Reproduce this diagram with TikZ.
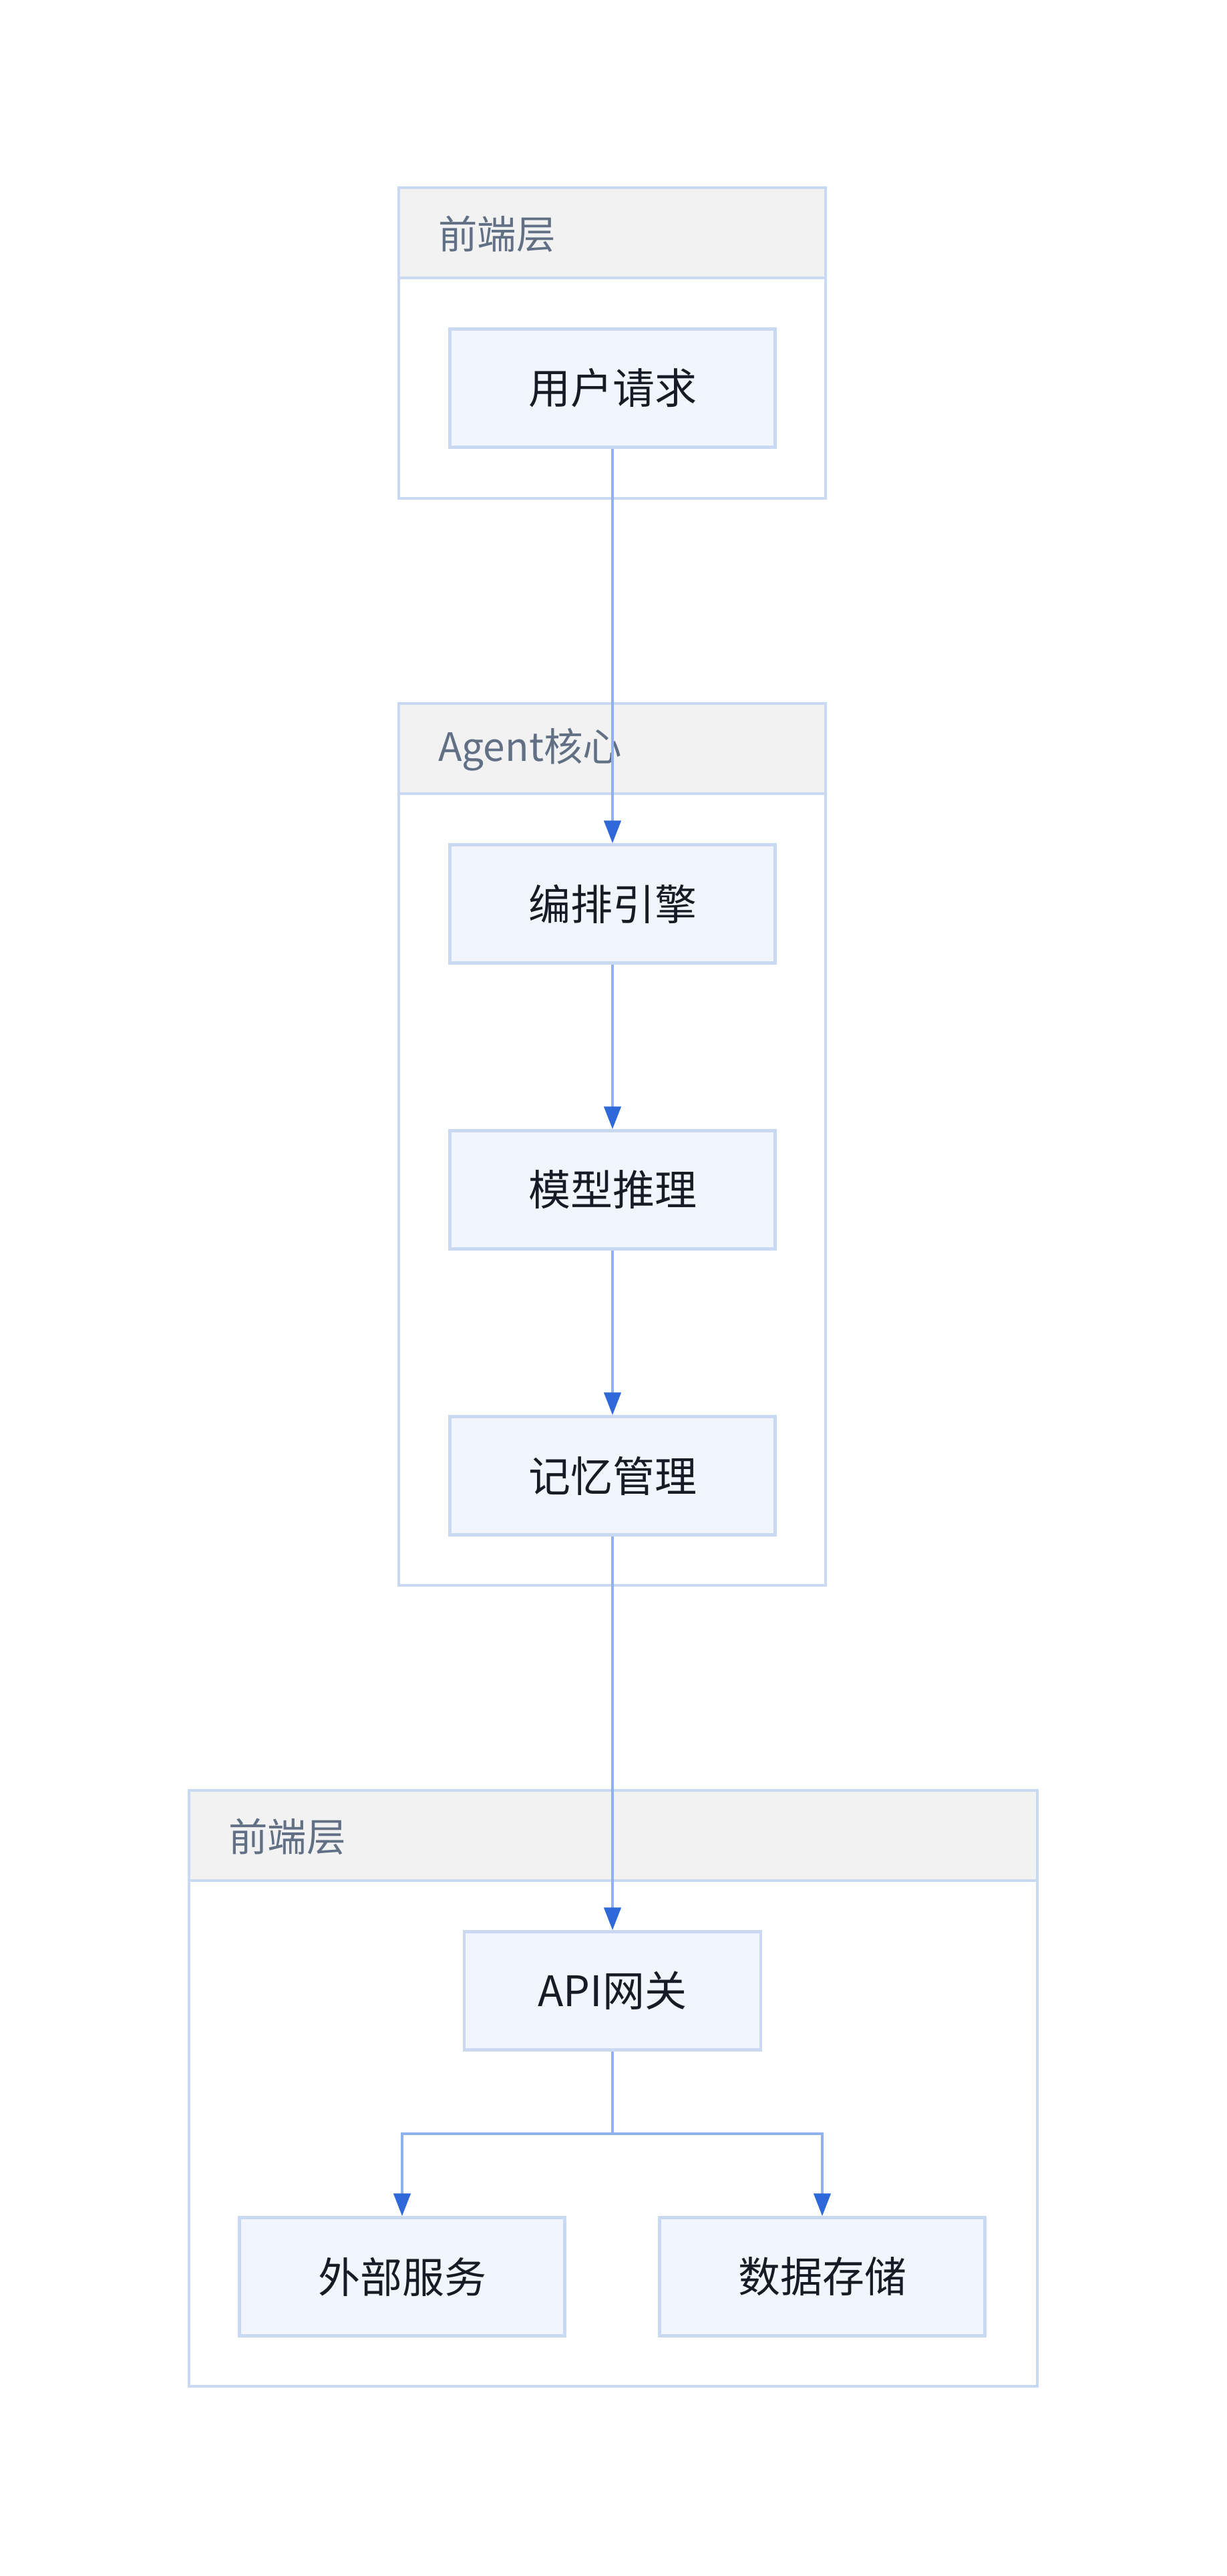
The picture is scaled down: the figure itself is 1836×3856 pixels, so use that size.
\documentclass[tikz,border=0pt]{standalone}
\usepackage{fontspec}
\setmainfont{Noto Sans CJK SC}
\usetikzlibrary{arrows.meta}
\definecolor{nodefill}{HTML}{F0F5FE}
\definecolor{nodeline}{HTML}{C9D9F2}
\definecolor{headfill}{HTML}{F2F2F2}
\definecolor{headtext}{HTML}{627086}
\definecolor{nodetext}{HTML}{161B26}
\definecolor{linkline}{HTML}{8FB2EE}
\definecolor{linkhead}{HTML}{2E68D9}
\begin{document}
\begin{tikzpicture}[x=1pt,y=-1pt,
  stepbox/.style={draw=nodeline, line width=4.5pt, fill=nodefill,
    minimum width=487pt, minimum height=177pt, inner sep=0pt,
    font=\fontsize{63}{75}\selectfont, text=nodetext},
  groupbox/.style={draw=nodeline, line width=4.5pt, fill=white},
  grouphead/.style={draw=nodeline, line width=4.5pt, fill=headfill},
  grouplabel/.style={anchor=west, inner sep=0pt, text=headtext,
    font=\fontsize{58.5}{70}\selectfont},
  link/.style={draw=linkline, line width=4.5pt,
    -{Triangle[length=34pt,width=25pt,color=linkhead]}},
  linkplain/.style={draw=linkline, line width=4.5pt}
]
\useasboundingbox[fill=white] (0,0) rectangle (1836,3856);

% front-end group
\draw[groupbox] (597,281) rectangle (1236,746);
\draw[grouphead] (597,281) rectangle (1236,416);
\node[grouplabel] (gfront) at (656,350) {前端层};

% agent core group
\draw[groupbox] (597,1053) rectangle (1236,2373);
\draw[grouphead] (597,1053) rectangle (1236,1188);
\node[grouplabel] (gagent) at (656,1122) {Agent核心};

% service group
\draw[groupbox] (283,2680) rectangle (1553,3572);
\draw[grouphead] (283,2680) rectangle (1553,2815);
\node[grouplabel] (gback) at (342,2749) {前端层};

% nodes
\node[stepbox] (req)   at (917,581)  {用户请求};
\node[stepbox] (orch)  at (917,1353) {编排引擎};
\node[stepbox] (model) at (917,1781) {模型推理};
\node[stepbox] (mem)   at (917,2209) {记忆管理};
\node[stepbox, minimum width=444pt] (api) at (917,2980) {API网关};
\node[stepbox] (ext)   at (602,3408) {外部服务};
\node[stepbox] (store) at (1231,3408) {数据存储};

% connectors
\draw[link] (req) -- (orch);
\draw[link] (orch) -- (model);
\draw[link] (model) -- (mem);
\draw[link] (mem) -- (api);
\coordinate (split) at (917,3194);
\draw[linkplain] (api) -- (split);
\draw[link] (split) -| (ext);
\draw[link] (split) -| (store);
\end{tikzpicture}
\end{document}
